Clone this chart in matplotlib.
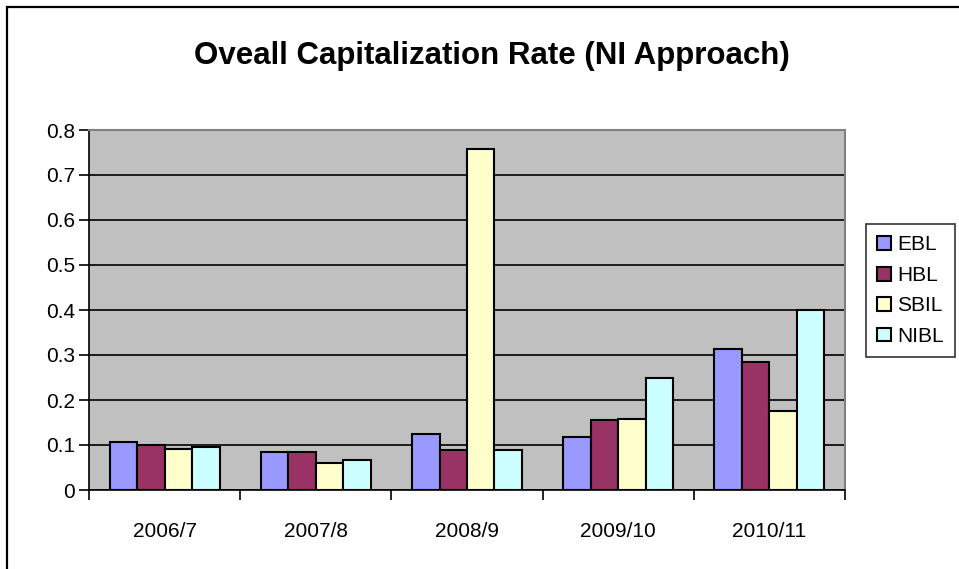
import matplotlib
matplotlib.use("Agg")
import matplotlib.pyplot as plt
import numpy as np
from matplotlib.patches import Rectangle

plt.rcParams['font.family'] = ['Liberation Sans', 'DejaVu Sans']

years = ["2006/7", "2007/8", "2008/9", "2009/10", "2010/11"]
banks = ["EBL", "HBL", "SBIL", "NIBL"]
ebl = [0.107, 0.084, 0.124, 0.118, 0.314]
hbl = [0.101, 0.084, 0.088, 0.155, 0.284]
sbil = [0.092, 0.061, 0.757, 0.158, 0.176]
nibl = [0.096, 0.066, 0.088, 0.248, 0.401]
colors = ["#9999FF", "#993366", "#FFFFCC", "#CCFFFF"]

W, H = 959, 569
fig = plt.figure(figsize=(W / 100, H / 100), dpi=100)

# outer chart frame (runs off the right/bottom edges)
fig.patches.append(Rectangle((7 / W, -0.1), 1.2, 1 - 7 / H + 0.1,
                             transform=fig.transFigure, fill=False,
                             edgecolor="black", linewidth=1.6))

ax = fig.add_axes([89 / W, 1 - 490 / H, (845 - 89) / W, (490 - 130) / H])
ax.set_facecolor("#C0C0C0")

x = np.arange(len(years))
bw = 1 / 5.5
for i, (vals, c, name) in enumerate(zip([ebl, hbl, sbil, nibl], colors, banks)):
    ax.bar(x + (i - 1.5) * bw, vals, width=bw, color=c, edgecolor="black",
           linewidth=1.5, label=name, zorder=3)

ax.set_xlim(-0.5, len(years) - 0.5)
ax.set_ylim(0, 0.8)
ax.set_yticks(np.arange(0, 0.81, 0.1))
ax.set_yticklabels(["0"] + [f"{v:.1f}" for v in np.arange(0.1, 0.81, 0.1)])
ax.yaxis.grid(True, color="black", linewidth=1.2, zorder=1)
ax.set_axisbelow(True)

ax.set_xticks(np.arange(-0.5, len(years), 1.0))
ax.set_xticklabels([])
ax.set_xticks(x, minor=True)
ax.set_xticklabels(years, minor=True)
ax.tick_params(axis="x", which="minor", length=0, pad=23, labelsize=15)
ax.tick_params(axis="x", which="major", direction="out", length=7, width=1.2)
ax.tick_params(axis="y", direction="out", length=7, width=1.2, labelsize=15, pad=3)

for s in ["top", "right"]:
    ax.spines[s].set_color("#808080")
    ax.spines[s].set_linewidth(1.5)
for s in ["left", "bottom"]:
    ax.spines[s].set_color("black")
    ax.spines[s].set_linewidth(1.2)

fig.text(492 / W, 1 - 56 / H, "Oveall Capitalization Rate (NI Approach)",
         ha="center", va="center", fontsize=22.5, fontweight="bold")

leg = fig.legend(loc="upper left", bbox_to_anchor=(866 / W, 1 - 224 / H),
                 frameon=True, fancybox=False, fontsize=15,
                 handlelength=0.65, handleheight=0.65, handletextpad=0.3,
                 labelspacing=0.55, borderpad=0.55, borderaxespad=0)
leg.get_frame().set_edgecolor("black")
leg.get_frame().set_linewidth(1.2)

fig.savefig("out.png", dpi=100)
